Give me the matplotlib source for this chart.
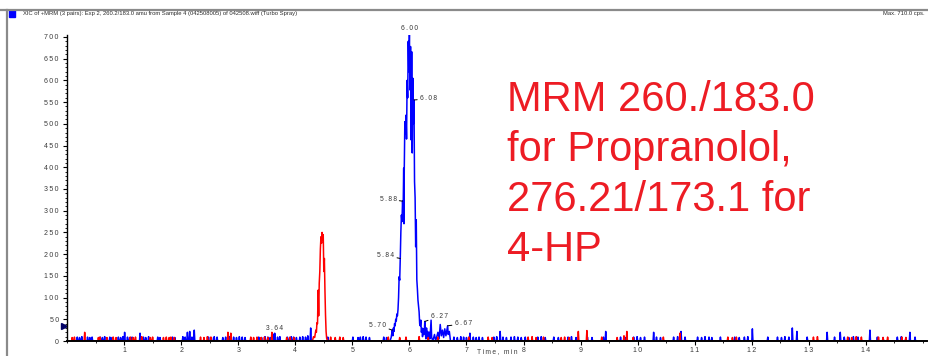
import matplotlib
matplotlib.use("Agg")
import matplotlib.pyplot as plt
from matplotlib.lines import Line2D
from matplotlib.patches import Rectangle
from matplotlib.ticker import MultipleLocator, FixedLocator, FuncFormatter

plt.rcParams['font.family'] = ['Liberation Sans', 'DejaVu Sans']

# XIC traces: background spikes as (time min, cps), peaks as explicit samples
blue_noise = [(0.18, 9), (0.22, 8), (0.26, 10), (0.36, 9), (0.40, 8), (0.44, 9),
              (0.58, 9), (0.62, 8), (0.66, 10), (0.75, 9), (0.79, 8), (0.90, 9),
              (0.94, 8), (0.98, 10), (1.01, 20), (1.06, 9), (1.10, 8), (1.14, 9),
              (1.28, 18), (1.34, 9), (1.38, 8), (1.43, 10), (1.59, 9), (1.63, 8),
              (1.85, 9), (1.89, 8), (2.03, 10), (2.07, 9), (2.11, 20), (2.15, 22),
              (2.19, 9), (2.23, 25), (2.48, 9), (2.53, 8), (2.58, 10), (2.63, 9),
              (2.73, 8), (2.78, 9), (2.85, 10), (2.92, 9), (2.97, 8), (3.02, 10),
              (3.07, 9), (3.12, 8), (3.36, 9), (3.41, 8), (3.47, 10), (3.52, 9),
              (3.56, 8), (3.61, 16), (3.64, 18), (3.69, 9), (3.73, 10), (3.86, 9),
              (3.90, 8), (3.93, 10), (3.97, 9), (4.02, 8), (4.08, 9), (4.13, 10),
              (4.18, 9), (4.22, 12), (4.27, 30), (4.57, 9), (5.01, 9), (5.10, 8),
              (5.14, 9), (5.19, 10), (5.24, 9), (5.30, 8), (5.55, 9), (5.60, 8),
              (6.78, 9), (6.84, 8), (6.90, 10), (6.95, 9), (7.00, 8), (7.06, 18),
              (7.12, 9), (7.17, 8), (7.22, 9), (7.28, 8), (7.48, 9), (7.53, 10),
              (7.59, 22), (7.64, 9), (7.70, 8), (7.78, 9), (7.84, 10), (7.90, 9),
              (7.96, 8), (8.03, 9), (8.25, 9), (8.31, 10), (8.38, 8), (8.53, 9),
              (8.61, 8), (8.78, 9), (8.84, 10), (8.92, 8), (9.12, 9), (9.20, 8),
              (9.40, 9), (9.44, 22), (9.70, 9), (9.78, 8), (9.93, 9), (9.99, 10),
              (10.05, 8), (10.12, 9), (10.28, 20), (10.33, 9), (10.40, 8),
              (10.63, 9), (10.70, 10), (10.76, 22), (10.83, 9), (11.05, 9),
              (11.12, 8), (11.18, 10), (11.25, 9), (11.30, 8), (11.45, 9),
              (11.70, 9), (11.78, 8), (11.87, 9), (11.93, 10), (12.01, 28),
              (12.28, 9), (12.45, 9), (12.52, 8), (12.58, 10), (12.65, 9),
              (12.71, 30), (12.79, 22), (12.97, 9), (13.32, 20), (13.45, 9),
              (13.55, 20), (13.62, 9), (13.70, 8), (13.78, 10), (13.86, 9),
              (14.07, 25), (14.20, 9), (14.30, 8), (14.55, 9), (14.62, 10),
              (14.70, 8), (14.77, 20), (14.86, 9)]

red_noise = [(0.09, 8), (0.13, 9), (0.31, 20), (0.55, 8), (0.58, 9), (0.70, 8),
             (0.81, 9), (0.86, 8), (1.11, 9), (1.16, 8), (1.20, 9), (1.31, 10),
             (1.46, 8), (1.50, 9), (1.69, 8), (1.74, 9), (1.79, 8), (1.82, 9),
             (1.88, 8), (2.34, 9), (2.40, 8), (2.46, 10), (2.52, 9), (2.82, 20),
             (2.87, 18), (3.22, 9), (3.27, 8), (3.33, 9), (3.40, 8), (3.46, 9),
             (3.52, 8), (3.59, 20), (3.85, 8), (3.91, 9), (3.98, 8), (4.62, 9),
             (4.70, 8), (4.78, 9), (4.84, 8), (5.63, 9), (5.83, 8), (5.94, 9),
             (6.17, 10), (6.33, 8), (6.50, 9), (7.04, 9), (7.38, 9), (7.45, 8),
             (8.08, 9), (8.15, 10), (8.22, 8), (8.35, 9), (8.66, 8), (8.72, 9),
             (8.80, 8), (8.96, 22), (9.11, 24), (9.37, 9), (9.64, 8), (9.76, 12),
             (9.81, 22), (9.92, 8), (10.45, 9), (10.74, 18), (11.58, 9),
             (11.66, 8), (11.73, 9), (13.08, 9), (13.15, 10), (13.68, 9),
             (13.75, 8), (13.83, 10), (13.92, 9), (14.22, 9), (14.30, 8),
             (14.38, 9), (14.63, 9), (14.70, 8)]

# 260.2/183.0 propranolol peak
blue_peak_t = [5.66, 5.68, 5.70, 5.71, 5.72, 5.73, 5.74, 5.75, 5.76, 5.77, 5.78,
               5.79, 5.80, 5.81, 5.82, 5.83, 5.84, 5.85, 5.86, 5.87, 5.88, 5.89,
               5.90, 5.905, 5.91, 5.92, 5.93, 5.94, 5.95, 5.96, 5.97, 5.98, 5.99,
               6.00, 6.01, 6.02, 6.03, 6.04, 6.05, 6.06, 6.07, 6.08, 6.09, 6.10,
               6.11, 6.12, 6.13, 6.14, 6.15, 6.16, 6.17, 6.18, 6.19, 6.20, 6.21,
               6.22, 6.23, 6.24, 6.25, 6.26, 6.27, 6.28, 6.29, 6.30, 6.31, 6.32,
               6.33, 6.35, 6.36, 6.38, 6.39, 6.41, 6.44, 6.46, 6.50, 6.52, 6.54,
               6.56, 6.58, 6.60, 6.62, 6.64, 6.65, 6.67, 6.68, 6.70, 6.72]
blue_peak_i = [0, 8, 25, 12, 30, 22, 40, 35, 50, 46, 62,
               58, 72, 100, 148, 140, 190, 250, 290, 275, 322, 300,
               398, 270, 395, 505, 478, 520, 465, 600, 560, 690, 620,
               708, 578, 678, 463, 666, 433, 605, 500, 555, 367, 330,
               217, 279, 141, 120, 94, 80, 67, 40, 35, 48, 20,
               30, 10, 28, 15, 20, 45, 15, 5, 30, 10, 22,
               0, 20, 5, 48, 8, 0, 15, 0, 20, 5, 38,
               12, 25, 8, 28, 12, 20, 35, 15, 22, 0]

# 276.21/173.1 4-HP peak
red_peak_t = [4.30, 4.32, 4.34, 4.36, 4.37, 4.38, 4.39, 4.40, 4.41, 4.42, 4.43,
              4.44, 4.45, 4.46, 4.47, 4.48, 4.49, 4.50, 4.51, 4.52, 4.53, 4.54,
              4.55, 4.57]
red_peak_i = [0, 10, 8, 25, 20, 42, 40, 117, 58, 133, 160,
              212, 240, 225, 250, 232, 245, 160, 190, 117, 60, 22,
              6, 0]

peak_labels = ["3.64", "5.70", "5.84", "5.88", "6.00", "6.08", "6.27", "6.67"]
label_values = [18, 25, 190, 322, 708, 555, 45, 35]


def build_trace(noise, peak_t, peak_i, w=0.01):
    pts = []
    for t, h in noise:
        pts += [(t - w, 0), (t, h), (t + w, 0)]
    pts += list(zip(peak_t, peak_i))
    pts.sort()
    xs = [p[0] for p in pts]
    ys = [p[1] for p in pts]
    return xs, ys


def spaced(s):
    return '\u2009'.join(s)


fig = plt.figure(figsize=(9.29, 3.56), dpi=100)
W, H = 929.0, 356.0
ax = fig.add_axes([67 / W, 1 - 341 / H, (927 - 67) / W, (341 - 34.8) / H])

bx, by = build_trace(blue_noise, blue_peak_t, blue_peak_i)
rx, ry = build_trace(red_noise, red_peak_t, red_peak_i)
ax.plot(bx, by, color='#0000ff', lw=1.1)
ax.plot(rx, ry, color='#ff0000', lw=1.1)

ax.set_xlim(0, 15.07)
ax.set_ylim(0, 705)
for s in ['top', 'right']:
    ax.spines[s].set_visible(False)
ax.spines['left'].set_linewidth(1.0)
ax.spines['bottom'].set_linewidth(1.4)

ax.xaxis.set_major_locator(FixedLocator(range(1, 15)))
ax.xaxis.set_minor_locator(MultipleLocator(0.5))
ax.yaxis.set_major_locator(MultipleLocator(50))
ax.yaxis.set_minor_locator(MultipleLocator(10))
tick_fmt = FuncFormatter(lambda v, pos: spaced('%d' % round(v)))
ax.xaxis.set_major_formatter(tick_fmt)
ax.yaxis.set_major_formatter(tick_fmt)
ax.tick_params(which='major', direction='out', length=3, width=0.8,
               labelsize=5.0, labelcolor='#3a3a3a')
ax.tick_params(axis='y', pad=3)
ax.tick_params(axis='x', pad=1)
ax.tick_params(which='minor', direction='out', length=1.5, width=0.6)
ax.set_xlabel(spaced('Time, min'), fontsize=4.8, color='#3a3a3a',
              va='center')
ax.xaxis.set_label_coords(0.5, -0.034)

# level marker on the intensity axis
ax.plot([-0.003], [35], transform=ax.get_yaxis_transform(), marker='>',
        color='#000066', ms=4, clip_on=False)

# retention-time labels on the peaks
offsets = {
    "3.64": ((0, 1), 'center', 'bottom', False),
    "5.70": ((-6, 5), 'right', 'center', True),
    "5.84": ((-6, 3), 'right', 'center', True),
    "5.88": ((-6, 2), 'right', 'center', True),
    "6.00": ((0, 1), 'center', 'bottom', False),
    "6.08": ((6, 1), 'left', 'center', True),
    "6.27": ((6, 5), 'left', 'center', True),
    "6.67": ((7, 2), 'left', 'center', True),
}
for lab, val in zip(peak_labels, label_values):
    off, ha, va, lead = offsets[lab]
    arrow = dict(arrowstyle='-', color='black', lw=0.7, shrinkA=0, shrinkB=0) if lead else None
    ax.annotate(spaced(lab), xy=(float(lab), val), xytext=off,
                textcoords='offset pixels', ha=ha, va=va, fontsize=4.8,
                color='#333333', arrowprops=arrow, annotation_clip=False)

# header strip
fig.add_artist(Line2D([0, 1], [1 - 10 / H] * 2, color='#8a8a8a', lw=1.6))
fig.add_artist(Line2D([7.5 / W] * 2, [0, 1 - 10 / H], color='#8a8a8a', lw=1.6))
fig.add_artist(Rectangle((9 / W, 1 - 17 / H), 6 / W, 7 / H, color='#0000ff'))
fig.text(23 / W, 1 - 13.5 / H,
         'XIC of +MRM (3 pairs): Exp 2, 260.2/183.0 amu from Sample 4 (042508005) of 042508.wiff (Turbo Spray)',
         fontsize=4.25, color='#2a2a2a', va='center', ha='left')
fig.text(925 / W, 1 - 13.5 / H, 'Max. 710.0 cps.', fontsize=4.25,
         color='#2a2a2a', va='center', ha='right')

fig.text(507 / W, 1 - 80 / H,
         'MRM 260./183.0\nfor Propranolol,\n276.21/173.1 for\n4-HP',
         fontsize=30, color='#ed1c24', ha='left', va='top', linespacing=1.32)

fig.savefig('out.png', dpi=100)
